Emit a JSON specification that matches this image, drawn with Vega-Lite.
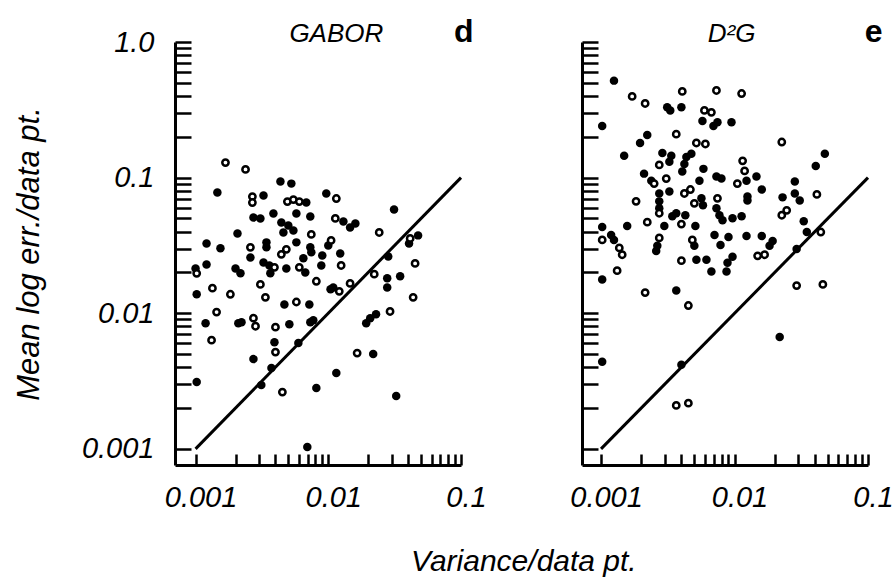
{
  "$schema": "https://vega.github.io/schema/vega-lite/v6.json",
  "background": "white",
  "padding": {"left": 13, "top": 16, "right": 0, "bottom": 0},
  "config": {"view": {"stroke": null}, "font": "Liberation Sans"},
  "title": {"text": "Variance/data pt.", "orient": "bottom", "anchor": "start", "frame": "group", "dx": 236, "fontSize": 30, "fontStyle": "italic", "fontWeight": "normal", "font": "Liberation Sans", "color": "black", "offset": 35},
  "datasets": {
    "diag": [{"x": 0.001, "y": 0.001}, {"x": 0.1, "y": 0.1}],
    "tagsL": [{"x": 0.0115, "y": 1, "label": "GABOR"}],
    "letterL": [{"x": 0.105, "y": 1, "label": "d"}],
    "tagsR": [{"x": 0.0095, "y": 1, "label": "D²G"}],
    "letterR": [{"x": 0.11, "y": 1, "label": "e"}],
    "gabor": [
      {"x":0.00168,"y":0.129,"t":"o"},{"x":0.00238,"y":0.115,"t":"o"},{"x":0.00146,"y":0.0776,"t":"f"},{"x":0.00436,"y":0.0935,"t":"f"},
      {"x":0.00527,"y":0.0903,"t":"f"},{"x":0.00268,"y":0.0725,"t":"o"},{"x":0.00325,"y":0.0737,"t":"f"},{"x":0.00268,"y":0.0655,"t":"o"},
      {"x":0.00966,"y":0.0763,"t":"f"},{"x":0.0115,"y":0.0701,"t":"o"},{"x":0.00492,"y":0.0666,"t":"o"},{"x":0.00546,"y":0.0689,"t":"o"},
      {"x":0.00605,"y":0.0666,"t":"o"},{"x":0.00683,"y":0.0655,"t":"f"},{"x":0.0313,"y":0.0582,"t":"f"},{"x":0.00273,"y":0.0508,"t":"f"},
      {"x":0.00308,"y":0.05,"t":"f"},{"x":0.00386,"y":0.0544,"t":"f"},{"x":0.00443,"y":0.0467,"t":"f"},{"x":0.005,"y":0.0444,"t":"f"},
      {"x":0.00546,"y":0.0408,"t":"f"},{"x":0.00459,"y":0.0394,"t":"f"},{"x":0.00575,"y":0.0544,"t":"f"},{"x":0.00732,"y":0.0517,"t":"f"},
      {"x":0.0113,"y":0.05,"t":"o"},{"x":0.013,"y":0.0475,"t":"f"},{"x":0.0146,"y":0.0429,"t":"f"},{"x":0.016,"y":0.0459,"t":"f"},
      {"x":0.00207,"y":0.0387,"t":"f"},{"x":0.00745,"y":0.0381,"t":"o"},{"x":0.0242,"y":0.0394,"t":"o"},{"x":0.0414,"y":0.0356,"t":"o"},
      {"x":0.0475,"y":0.0375,"t":"f"},{"x":0.0406,"y":0.0327,"t":"f"},{"x":0.00121,"y":0.0327,"t":"f"},{"x":0.00154,"y":0.0301,"t":"f"},
      {"x":0.00259,"y":0.0306,"t":"o"},{"x":0.00259,"y":0.0258,"t":"f"},{"x":0.00342,"y":0.0333,"t":"f"},{"x":0.00342,"y":0.0306,"t":"f"},
      {"x":0.00575,"y":0.0333,"t":"f"},{"x":0.0105,"y":0.0344,"t":"o"},{"x":0.01,"y":0.0316,"t":"f"},{"x":0.00483,"y":0.0296,"t":"o"},
      {"x":0.00443,"y":0.0272,"t":"o"},{"x":0.00732,"y":0.0306,"t":"f"},{"x":0.00745,"y":0.0281,"t":"f"},{"x":0.00649,"y":0.0254,"t":"f"},
      {"x":0.00901,"y":0.0267,"t":"f"},{"x":0.0123,"y":0.0276,"t":"f"},{"x":0.0125,"y":0.0225,"t":"o"},{"x":0.0283,"y":0.0262,"t":"f"},
      {"x":0.00325,"y":0.0237,"t":"f"},{"x":0.0036,"y":0.0225,"t":"f"},{"x":0.00393,"y":0.0218,"t":"o"},{"x":0.00121,"y":0.0229,"t":"f"},
      {"x":0.001,"y":0.0214,"t":"f"},{"x":0.00102,"y":0.0197,"t":"o"},{"x":0.002,"y":0.0214,"t":"f"},{"x":0.00218,"y":0.0197,"t":"f"},
      {"x":0.00366,"y":0.0197,"t":"f"},{"x":0.00483,"y":0.0214,"t":"f"},{"x":0.00605,"y":0.0218,"t":"o"},{"x":0.00671,"y":0.02,"t":"f"},
      {"x":0.00886,"y":0.0225,"t":"f"},{"x":0.00813,"y":0.0172,"t":"o"},{"x":0.0222,"y":0.0194,"t":"o"},{"x":0.0348,"y":0.0187,"t":"f"},
      {"x":0.0278,"y":0.0181,"t":"f"},{"x":0.0278,"y":0.0155,"t":"f"},{"x":0.0451,"y":0.0233,"t":"o"},{"x":0.00308,"y":0.0163,"t":"o"},
      {"x":0.0146,"y":0.0166,"t":"o"},{"x":0.0104,"y":0.015,"t":"f"},{"x":0.0109,"y":0.0155,"t":"f"},{"x":0.0121,"y":0.0145,"t":"o"},
      {"x":0.00102,"y":0.0138,"t":"f"},{"x":0.00134,"y":0.0153,"t":"o"},{"x":0.00183,"y":0.0138,"t":"o"},{"x":0.00336,"y":0.0131,"t":"o"},
      {"x":0.00467,"y":0.0116,"t":"f"},{"x":0.00575,"y":0.0121,"t":"o"},{"x":0.0072,"y":0.0116,"t":"f"},{"x":0.0436,"y":0.0131,"t":"o"},
      {"x":0.00144,"y":0.0102,"t":"o"},{"x":0.00119,"y":0.00844,"t":"f"},{"x":0.0021,"y":0.00844,"t":"f"},{"x":0.00222,"y":0.00859,"t":"f"},
      {"x":0.00273,"y":0.00919,"t":"o"},{"x":0.00283,"y":0.00802,"t":"o"},{"x":0.004,"y":0.00789,"t":"o"},{"x":0.00509,"y":0.0083,"t":"f"},
      {"x":0.00732,"y":0.00859,"t":"f"},{"x":0.00771,"y":0.00888,"t":"f"},{"x":0.0193,"y":0.00844,"t":"f"},{"x":0.0207,"y":0.00919,"t":"f"},
      {"x":0.0229,"y":0.00983,"t":"f"},{"x":0.0292,"y":0.0103,"t":"o"},{"x":0.00132,"y":0.00633,"t":"o"},{"x":0.00393,"y":0.00612,"t":"f"},
      {"x":0.004,"y":0.00517,"t":"o"},{"x":0.00595,"y":0.00602,"t":"f"},{"x":0.00273,"y":0.00459,"t":"f"},{"x":0.0165,"y":0.00508,"t":"o"},
      {"x":0.0218,"y":0.005,"t":"f"},{"x":0.00373,"y":0.00394,"t":"f"},{"x":0.0115,"y":0.00362,"t":"f"},{"x":0.00102,"y":0.00311,"t":"f"},
      {"x":0.00313,"y":0.00295,"t":"f"},{"x":0.00451,"y":0.00262,"t":"o"},{"x":0.00813,"y":0.00281,"t":"f"},{"x":0.0325,"y":0.00245,"t":"f"},
      {"x":0.00695,"y":0.00103,"t":"f"}
    ],
    "d2g": [
      {"x":0.00125,"y":0.519,"t":"f"},{"x":0.00171,"y":0.397,"t":"o"},{"x":0.00214,"y":0.352,"t":"o"},{"x":0.00406,"y":0.432,"t":"o"},
      {"x":0.00732,"y":0.439,"t":"o"},{"x":0.0113,"y":0.417,"t":"o"},{"x":0.00313,"y":0.33,"t":"f"},{"x":0.0033,"y":0.313,"t":"f"},
      {"x":0.004,"y":0.33,"t":"f"},{"x":0.00595,"y":0.313,"t":"o"},{"x":0.00671,"y":0.303,"t":"o"},{"x":0.00575,"y":0.261,"t":"f"},
      {"x":0.00695,"y":0.24,"t":"f"},{"x":0.00745,"y":0.256,"t":"f"},{"x":0.00949,"y":0.256,"t":"f"},{"x":0.00102,"y":0.24,"t":"f"},
      {"x":0.00222,"y":0.206,"t":"f"},{"x":0.00196,"y":0.18,"t":"f"},{"x":0.00366,"y":0.209,"t":"o"},{"x":0.00518,"y":0.18,"t":"o"},
      {"x":0.00605,"y":0.177,"t":"o"},{"x":0.0226,"y":0.183,"t":"o"},{"x":0.00149,"y":0.145,"t":"f"},{"x":0.00288,"y":0.152,"t":"f"},
      {"x":0.00336,"y":0.145,"t":"f"},{"x":0.00325,"y":0.131,"t":"f"},{"x":0.00436,"y":0.142,"t":"f"},{"x":0.00475,"y":0.15,"t":"f"},
      {"x":0.00421,"y":0.126,"t":"f"},{"x":0.00273,"y":0.124,"t":"o"},{"x":0.00585,"y":0.116,"t":"f"},{"x":0.0115,"y":0.133,"t":"o"},
      {"x":0.0119,"y":0.112,"t":"o"},{"x":0.0475,"y":0.15,"t":"f"},{"x":0.0406,"y":0.122,"t":"f"},{"x":0.0021,"y":0.107,"t":"f"},
      {"x":0.00238,"y":0.095,"t":"f"},{"x":0.0025,"y":0.0904,"t":"o"},{"x":0.00308,"y":0.0984,"t":"o"},{"x":0.00406,"y":0.111,"t":"f"},
      {"x":0.00546,"y":0.095,"t":"f"},{"x":0.00732,"y":0.102,"t":"f"},{"x":0.00798,"y":0.0984,"t":"f"},{"x":0.0105,"y":0.0904,"t":"o"},
      {"x":0.0123,"y":0.095,"t":"f"},{"x":0.0146,"y":0.102,"t":"f"},{"x":0.0283,"y":0.0935,"t":"f"},{"x":0.016,"y":0.0817,"t":"f"},
      {"x":0.00273,"y":0.0764,"t":"f"},{"x":0.00325,"y":0.079,"t":"f"},{"x":0.00467,"y":0.0817,"t":"o"},{"x":0.00421,"y":0.0764,"t":"o"},
      {"x":0.00565,"y":0.0703,"t":"f"},{"x":0.0058,"y":0.0625,"t":"f"},{"x":0.00745,"y":0.0703,"t":"o"},{"x":0.0125,"y":0.0727,"t":"f"},
      {"x":0.0125,"y":0.0679,"t":"f"},{"x":0.0229,"y":0.0715,"t":"f"},{"x":0.0283,"y":0.0764,"t":"f"},{"x":0.0308,"y":0.0679,"t":"f"},
      {"x":0.0414,"y":0.0752,"t":"o"},{"x":0.00183,"y":0.0668,"t":"o"},{"x":0.00273,"y":0.0668,"t":"f"},{"x":0.00273,"y":0.0594,"t":"f"},
      {"x":0.00273,"y":0.0546,"t":"o"},{"x":0.005,"y":0.0646,"t":"o"},{"x":0.00732,"y":0.0594,"t":"f"},{"x":0.00771,"y":0.0528,"t":"f"},
      {"x":0.00813,"y":0.0485,"t":"f"},{"x":0.00966,"y":0.0502,"t":"f"},{"x":0.0113,"y":0.0519,"t":"f"},{"x":0.0226,"y":0.0528,"t":"o"},
      {"x":0.0246,"y":0.0574,"t":"o"},{"x":0.00342,"y":0.0519,"t":"f"},{"x":0.00366,"y":0.0546,"t":"f"},{"x":0.004,"y":0.0454,"t":"o"},
      {"x":0.00428,"y":0.0528,"t":"f"},{"x":0.00222,"y":0.0469,"t":"o"},{"x":0.033,"y":0.0477,"t":"f"},{"x":0.00102,"y":0.0432,"t":"f"},
      {"x":0.00157,"y":0.0439,"t":"f"},{"x":0.00298,"y":0.0439,"t":"f"},{"x":0.00509,"y":0.0439,"t":"f"},{"x":0.0348,"y":0.0397,"t":"f"},
      {"x":0.0443,"y":0.0397,"t":"o"},{"x":0.00119,"y":0.0377,"t":"f"},{"x":0.00125,"y":0.0347,"t":"f"},{"x":0.00102,"y":0.0347,"t":"o"},
      {"x":0.00708,"y":0.0377,"t":"f"},{"x":0.00901,"y":0.0365,"t":"f"},{"x":0.0123,"y":0.0371,"t":"f"},{"x":0.016,"y":0.0371,"t":"f"},
      {"x":0.00785,"y":0.0319,"t":"f"},{"x":0.00273,"y":0.0359,"t":"o"},{"x":0.00264,"y":0.0314,"t":"f"},{"x":0.00259,"y":0.0288,"t":"f"},
      {"x":0.00483,"y":0.0347,"t":"o"},{"x":0.005,"y":0.0314,"t":"f"},{"x":0.0193,"y":0.0341,"t":"f"},{"x":0.0183,"y":0.0314,"t":"f"},
      {"x":0.00137,"y":0.0303,"t":"o"},{"x":0.00144,"y":0.027,"t":"o"},{"x":0.0292,"y":0.0298,"t":"f"},{"x":0.0149,"y":0.0265,"t":"o"},
      {"x":0.0168,"y":0.027,"t":"o"},{"x":0.00518,"y":0.0248,"t":"f"},{"x":0.00616,"y":0.0248,"t":"f"},{"x":0.00966,"y":0.0261,"t":"f"},
      {"x":0.00886,"y":0.0236,"t":"f"},{"x":0.004,"y":0.0244,"t":"o"},{"x":0.00132,"y":0.0206,"t":"o"},{"x":0.00671,"y":0.0203,"t":"f"},
      {"x":0.00871,"y":0.0203,"t":"f"},{"x":0.00102,"y":0.0177,"t":"f"},{"x":0.00214,"y":0.0142,"t":"o"},{"x":0.00366,"y":0.0147,"t":"f"},
      {"x":0.0292,"y":0.016,"t":"o"},{"x":0.0459,"y":0.0163,"t":"o"},{"x":0.00451,"y":0.0114,"t":"o"},{"x":0.0218,"y":0.00668,"t":"f"},
      {"x":0.00102,"y":0.00439,"t":"f"},{"x":0.004,"y":0.00417,"t":"f"},{"x":0.00366,"y":0.00209,"t":"o"},{"x":0.00451,"y":0.00217,"t":"o"}
    ]
  },
  "bounds": "flush",
  "spacing": 121,
  "hconcat": [
    {
      "width": 286,
      "height": 423,
      "layer": [
        {
          "data": {"name": "diag"},
          "mark": {"type": "line", "color": "black", "strokeWidth": 3},
          "encoding": {
            "x": {"field": "x", "type": "quantitative", "scale": {"type": "log", "domain": [0.0007, 0.1], "nice": false},
              "axis": {"title": null, "grid": false, "values": [0.001,0.002,0.003,0.004,0.005,0.006,0.007,0.008,0.009,0.01,0.02,0.03,0.04,0.05,0.06,0.07,0.08,0.09,0.1],
                "labelExpr": "(datum.value == 0.1 || datum.value == 0.01 || datum.value == 0.001) ? toString(datum.value) : ''",
                "tickSize": -11, "tickWidth": 2.5, "tickColor": "black", "domainColor": "black", "domainWidth": 3,
                "labelFontSize": 29, "labelFont": "Liberation Sans", "labelFontStyle": "italic", "labelColor": "black",
                "labelPadding": 29, "labelOffset": 5, "labelOverlap": false, "labelFlush": false, "labelBound": false}},
            "y": {"field": "y", "type": "quantitative", "scale": {"type": "log", "domain": [0.00076, 1], "nice": false},
              "axis": {"title": "Mean log err./data pt.", "grid": false,
                "values": [0.001,0.002,0.003,0.004,0.005,0.006,0.007,0.008,0.009,0.01,0.02,0.03,0.04,0.05,0.06,0.07,0.08,0.09,0.1,0.2,0.3,0.4,0.5,0.6,0.7,0.8,0.9,1],
                "labelExpr": "datum.value == 1 ? '1.0' : (datum.value == 0.1 || datum.value == 0.01 || datum.value == 0.001) ? toString(datum.value) : ''",
                "tickSize": -16, "tickWidth": 2.5, "tickColor": "black", "domainColor": "black", "domainWidth": 3,
                "labelFontSize": 29, "labelFont": "Liberation Sans", "labelFontStyle": "italic", "labelColor": "black",
                "labelPadding": 37, "labelOverlap": false, "labelFlush": false, "labelBound": false,
                "titleFontSize": 31, "titleFont": "Liberation Sans", "titleFontStyle": "italic", "titleFontWeight": "normal", "titleColor": "black", "titlePadding": 36}}
          }
        },
        {
          "data": {"name": "gabor"},
          "transform": [{"filter": "datum.t == 'f'"}],
          "mark": {"type": "point", "shape": "circle", "filled": true, "color": "black", "size": 72, "opacity": 1},
          "encoding": {
            "x": {"field": "x", "type": "quantitative", "scale": {"type": "log", "domain": [0.0007, 0.1], "nice": false}},
            "y": {"field": "y", "type": "quantitative", "scale": {"type": "log", "domain": [0.00076, 1], "nice": false}}
          }
        },
        {
          "data": {"name": "gabor"},
          "transform": [{"filter": "datum.t == 'o'"}],
          "mark": {"type": "point", "shape": "circle", "filled": false, "stroke": "black", "fill": "white", "fillOpacity": 1, "strokeWidth": 2.5, "size": 40, "opacity": 1},
          "encoding": {
            "x": {"field": "x", "type": "quantitative", "scale": {"type": "log", "domain": [0.0007, 0.1], "nice": false}},
            "y": {"field": "y", "type": "quantitative", "scale": {"type": "log", "domain": [0.00076, 1], "nice": false}}
          }
        },
        {
          "data": {"name": "tagsL"},
          "mark": {"type": "text", "font": "Liberation Sans", "fontSize": 26, "fontStyle": "italic", "color": "black", "baseline": "alphabetic", "align": "center"},
          "encoding": {
            "x": {"field": "x", "type": "quantitative", "scale": {"type": "log", "domain": [0.0007, 0.1], "nice": false}},
            "y": {"field": "y", "type": "quantitative", "scale": {"type": "log", "domain": [0.00076, 1], "nice": false}},
            "text": {"field": "label"}
          }
        },
        {
          "data": {"name": "letterL"},
          "mark": {"type": "text", "font": "Liberation Sans", "fontSize": 32, "fontWeight": "bold", "color": "black", "baseline": "alphabetic", "align": "center"},
          "encoding": {
            "x": {"field": "x", "type": "quantitative", "scale": {"type": "log", "domain": [0.0007, 0.1], "nice": false}},
            "y": {"field": "y", "type": "quantitative", "scale": {"type": "log", "domain": [0.00076, 1], "nice": false}},
            "text": {"field": "label"}
          }
        }
      ]
    },
    {
      "width": 286,
      "height": 423,
      "layer": [
        {
          "data": {"name": "diag"},
          "mark": {"type": "line", "color": "black", "strokeWidth": 3},
          "encoding": {
            "x": {"field": "x", "type": "quantitative", "scale": {"type": "log", "domain": [0.00072, 0.1], "nice": false},
              "axis": {"title": null, "grid": false, "values": [0.001,0.002,0.003,0.004,0.005,0.006,0.007,0.008,0.009,0.01,0.02,0.03,0.04,0.05,0.06,0.07,0.08,0.09,0.1],
                "labelExpr": "(datum.value == 0.1 || datum.value == 0.01 || datum.value == 0.001) ? toString(datum.value) : ''",
                "tickSize": -11, "tickWidth": 2.5, "tickColor": "black", "domainColor": "black", "domainWidth": 3,
                "labelFontSize": 29, "labelFont": "Liberation Sans", "labelFontStyle": "italic", "labelColor": "black",
                "labelPadding": 29, "labelOffset": 5, "labelOverlap": false, "labelFlush": false, "labelBound": false}},
            "y": {"field": "y", "type": "quantitative", "scale": {"type": "log", "domain": [0.00076, 1], "nice": false},
              "axis": {"title": null, "grid": false, "labels": false,
                "values": [0.001,0.002,0.003,0.004,0.005,0.006,0.007,0.008,0.009,0.01,0.02,0.03,0.04,0.05,0.06,0.07,0.08,0.09,0.1,0.2,0.3,0.4,0.5,0.6,0.7,0.8,0.9,1],
                "tickSize": -16, "tickWidth": 2.5, "tickColor": "black", "domainColor": "black", "domainWidth": 3}}
          }
        },
        {
          "data": {"name": "d2g"},
          "transform": [{"filter": "datum.t == 'f'"}],
          "mark": {"type": "point", "shape": "circle", "filled": true, "color": "black", "size": 72, "opacity": 1},
          "encoding": {
            "x": {"field": "x", "type": "quantitative", "scale": {"type": "log", "domain": [0.00072, 0.1], "nice": false}},
            "y": {"field": "y", "type": "quantitative", "scale": {"type": "log", "domain": [0.00076, 1], "nice": false}}
          }
        },
        {
          "data": {"name": "d2g"},
          "transform": [{"filter": "datum.t == 'o'"}],
          "mark": {"type": "point", "shape": "circle", "filled": false, "stroke": "black", "fill": "white", "fillOpacity": 1, "strokeWidth": 2.5, "size": 40, "opacity": 1},
          "encoding": {
            "x": {"field": "x", "type": "quantitative", "scale": {"type": "log", "domain": [0.00072, 0.1], "nice": false}},
            "y": {"field": "y", "type": "quantitative", "scale": {"type": "log", "domain": [0.00076, 1], "nice": false}}
          }
        },
        {
          "data": {"name": "tagsR"},
          "mark": {"type": "text", "font": "Liberation Sans", "fontSize": 26, "fontStyle": "italic", "color": "black", "baseline": "alphabetic", "align": "center"},
          "encoding": {
            "x": {"field": "x", "type": "quantitative", "scale": {"type": "log", "domain": [0.00072, 0.1], "nice": false}},
            "y": {"field": "y", "type": "quantitative", "scale": {"type": "log", "domain": [0.00076, 1], "nice": false}},
            "text": {"field": "label"}
          }
        },
        {
          "data": {"name": "letterR"},
          "mark": {"type": "text", "font": "Liberation Sans", "fontSize": 32, "fontWeight": "bold", "color": "black", "baseline": "alphabetic", "align": "center"},
          "encoding": {
            "x": {"field": "x", "type": "quantitative", "scale": {"type": "log", "domain": [0.00072, 0.1], "nice": false}},
            "y": {"field": "y", "type": "quantitative", "scale": {"type": "log", "domain": [0.00076, 1], "nice": false}},
            "text": {"field": "label"}
          }
        }
      ]
    }
  ]
}
